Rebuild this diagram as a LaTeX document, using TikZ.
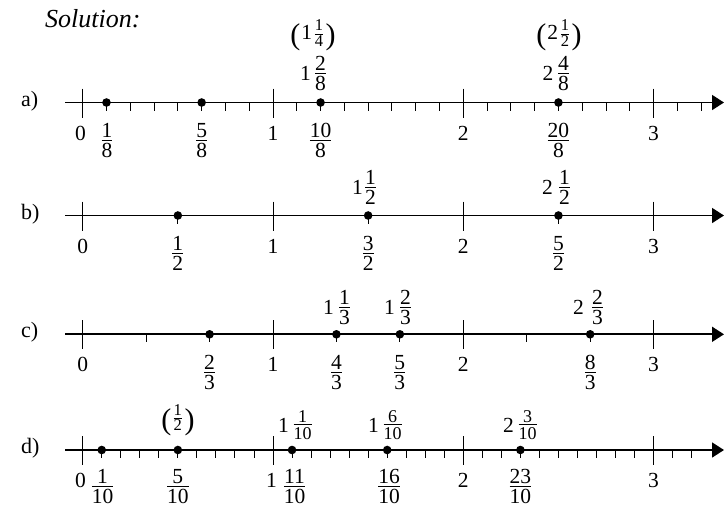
\documentclass[tikz,border=0pt]{standalone}
\usepackage{amsmath}
\usepackage{fontspec}
\setmainfont{Liberation Serif}
\usetikzlibrary{arrows.meta}
\newcommand\fr[2]{\ensuremath{\genfrac{}{}{0.7pt}{1}{\hbox{\rule[-0.08em]{0pt}{0.08em}#1}}{\hbox{\rule{0pt}{0.74em}#2}}}}
\newcommand\sfr[2]{\ensuremath{\genfrac{}{}{0.6pt}{1}{\hbox{\fontsize{16.5}{16.5}\selectfont #1}}{\hbox{\fontsize{16.5}{16.5}\selectfont #2}}}}
\newcommand\bpl{\raisebox{-5.6pt}{\fontsize{30}{30}\selectfont(}}
\newcommand\bpr{\raisebox{-5.6pt}{\fontsize{30}{30}\selectfont)}}
\begin{document}
\begin{tikzpicture}[x=1pt,y=-1pt,
  axisline/.style={line width=1.7pt,-{Triangle[length=12pt,width=15pt]}},
  majtick/.style={line width=0.9pt},
  mintick/.style={line width=0.9pt},
  dotn/.style={circle,fill,inner sep=0pt,minimum size=8.6pt},
  lab/.style={font=\fontsize{21.5}{25}\selectfont,inner sep=0pt,anchor=base},
  slab/.style={font=\fontsize{18}{21}\selectfont,inner sep=0pt,anchor=base},
  rowlab/.style={font=\fontsize{22}{26}\selectfont,inner sep=0pt,anchor=base west}]
\useasboundingbox (0,0) rectangle (724,507);
\def\xo{82.7}\def\un{190.3}
\node[font=\fontsize{26}{30}\selectfont\itshape,inner sep=0pt,anchor=base west] (sol) at (45,27) {Solution:};
% ---------- row a ----------
\def\L{102.5}
\node[rowlab] (la) at (21,\L+3.5) {a)};
\coordinate (as) at (65,\L); \coordinate (ae) at (724,\L);
\draw[axisline] (as) -- (ae);
\foreach \k in {1,...,26}{\draw[mintick] ({\xo+\k*\un/8},\L) -- ++(0,8);}
\foreach \k in {0,...,3}{\draw[majtick] ({\xo+\k*\un},\L-14) -- ++(0,29);}
\node[dotn] (ad1) at (106.49,\L) {};
\node[dotn] (ad2) at (201.64,\L) {};
\node[dotn] (ad3) at (320.57,\L) {};
\node[dotn] (ad4) at (558.45,\L) {};
\node[lab] (ai0) at (80.5,\L+37.5) {0};
\node[lab] (ai1) at (273,\L+37.5) {1};
\node[lab] (ai2) at (463.3,\L+37.5) {2};
\node[lab] (ai3) at (653.6,\L+37.5) {3};
\node[lab] (af1) at (107,\L+43) {\fr{1}{8}};
\node[lab] (af2) at (201.64,\L+43) {\fr{5}{8}};
\node[lab] (af3) at (320.57,\L+43) {\fr{10}{8}};
\node[lab] (af4) at (558.45,\L+43) {\fr{20}{8}};
\node[lab] (at1f) at (320.57,\L-24) {\fr{2}{8}};
\node[lab] (at1w) at (305.5,\L-22) {1};
\node[lab] (at2f) at (563.5,\L-24) {\fr{4}{8}};
\node[lab] (at2w) at (548,\L-22) {2};
\node[lab] (ap1) at (313,39) {\bpl\kern1pt 1\kern1.5pt\sfr{1}{4}\kern1.5pt\bpr};
\node[lab] (ap2) at (559,39) {\bpl\kern1pt 2\kern1.5pt\sfr{1}{2}\kern1.5pt\bpr};
% ---------- row b ----------
\def\L{215.5}
\node[rowlab] (lb) at (21,\L+3.5) {b)};
\coordinate (bs) at (65,\L); \coordinate (be) at (724,\L);
\draw[axisline] (bs) -- (be);
\foreach \k in {1,3,5}{\draw[mintick] ({\xo+\k*\un/2},\L) -- ++(0,8);}
\foreach \k in {0,...,3}{\draw[majtick] ({\xo+\k*\un},\L-14) -- ++(0,29);}
\node[dotn] (bd1) at (177.85,\L) {};
\node[dotn] (bd2) at (368.15,\L) {};
\node[dotn] (bd3) at (558.45,\L) {};
\node[lab] (bi0) at (82.7,\L+37.5) {0};
\node[lab] (bi1) at (273,\L+37.5) {1};
\node[lab] (bi2) at (463.3,\L+37.5) {2};
\node[lab] (bi3) at (653.6,\L+37.5) {3};
\node[lab] (bf1) at (177.85,\L+43) {\fr{1}{2}};
\node[lab] (bf2) at (368.15,\L+43) {\fr{3}{2}};
\node[lab] (bf3) at (558.45,\L+43) {\fr{5}{2}};
\node[lab] (bt1f) at (370.5,\L-23) {\fr{1}{2}};
\node[lab] (bt1w) at (357.5,\L-21) {1};
\node[lab] (bt2f) at (564.5,\L-23) {\fr{1}{2}};
\node[lab] (bt2w) at (547.5,\L-21) {2};
% ---------- row c ----------
\def\L{334.3}
\node[rowlab] (lc) at (21,\L+3.5) {c)};
\coordinate (cs) at (65,\L); \coordinate (ce) at (724,\L);
\draw[axisline] (cs) -- (ce);
\foreach \k in {1,2,4,5,7,8}{\draw[mintick] ({\xo+\k*\un/3},\L) -- ++(0,8);}
\foreach \k in {0,...,3}{\draw[majtick] ({\xo+\k*\un},\L-14) -- ++(0,29);}
\node[dotn] (cd1) at (209.57,\L) {};
\node[dotn] (cd2) at (336.43,\L) {};
\node[dotn] (cd3) at (399.87,\L) {};
\node[dotn] (cd4) at (590.17,\L) {};
\node[lab] (ci0) at (82.7,\L+37.5) {0};
\node[lab] (ci1) at (273,\L+37.5) {1};
\node[lab] (ci2) at (463.3,\L+37.5) {2};
\node[lab] (ci3) at (653.6,\L+37.5) {3};
\node[lab] (cf1) at (209.57,\L+43) {\fr{2}{3}};
\node[lab] (cf2) at (336.43,\L+43) {\fr{4}{3}};
\node[lab] (cf3) at (399.87,\L+43) {\fr{5}{3}};
\node[lab] (cf4) at (590.17,\L+43) {\fr{8}{3}};
\node[lab] (ct1f) at (344.5,\L-22) {\fr{1}{3}};
\node[lab] (ct1w) at (328.5,\L-20) {1};
\node[lab] (ct2f) at (405.5,\L-22) {\fr{2}{3}};
\node[lab] (ct2w) at (389.5,\L-20) {1};
\node[lab] (ct3f) at (597.5,\L-22) {\fr{2}{3}};
\node[lab] (ct3w) at (578.5,\L-20) {2};
% ---------- row d ----------
\def\L{450}
\node[rowlab] (ld) at (21,\L+3.5) {d)};
\coordinate (ds) at (65,\L); \coordinate (de) at (724,\L);
\draw[axisline] (ds) -- (de);
\foreach \k in {1,...,32}{\draw[mintick] ({\xo+\k*\un/10},\L) -- ++(0,8);}
\foreach \k in {0,...,3}{\draw[majtick] ({\xo+\k*\un},\L-14) -- ++(0,29);}
\node[dotn] (dd1) at (101.73,\L) {};
\node[dotn] (dd2) at (177.85,\L) {};
\node[dotn] (dd3) at (292.03,\L) {};
\node[dotn] (dd4) at (387.18,\L) {};
\node[dotn] (dd5) at (520.39,\L) {};
\node[lab] (di0) at (80.5,\L+37) {0};
\node[lab] (di1) at (271.5,\L+37) {1};
\node[lab] (di2) at (463.3,\L+37) {2};
\node[lab] (di3) at (653.6,\L+37) {3};
\node[lab] (df1) at (102.5,\L+42) {\fr{1}{10}};
\node[lab] (df2) at (177.85,\L+42) {\fr{5}{10}};
\node[lab] (df3) at (294.5,\L+42) {\fr{11}{10}};
\node[lab] (df4) at (389,\L+42) {\fr{16}{10}};
\node[lab] (df5) at (520.39,\L+42) {\fr{23}{10}};
\node[slab] (dt1f) at (302.5,\L-21) {\fr{1}{10}};
\node[lab] (dt1w) at (283.5,\L-18) {1};
\node[slab] (dt2f) at (392.5,\L-21) {\fr{6}{10}};
\node[lab] (dt2w) at (373.5,\L-18) {1};
\node[slab] (dt3f) at (527.5,\L-21) {\fr{3}{10}};
\node[lab] (dt3w) at (508.5,\L-18) {2};
\node[lab] (dp1) at (178,\L-26.5) {\bpl\kern1pt\sfr{1}{2}\kern1.5pt\bpr};
\end{tikzpicture}
\end{document}
